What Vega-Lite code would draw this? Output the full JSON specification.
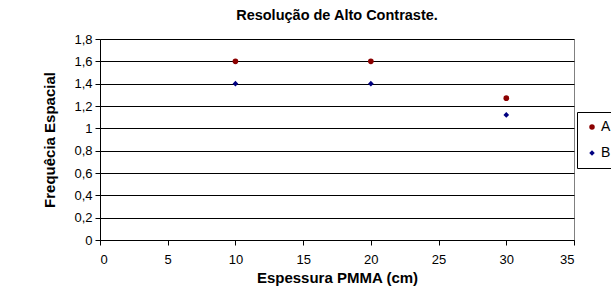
{
  "$schema": "https://vega.github.io/schema/vega-lite/v6.json",
  "autosize": "none",
  "width": 474,
  "height": 201,
  "padding": {"left": 100, "top": 39, "right": 37, "bottom": 51},
  "background": "white",
  "title": {
    "text": "Resolução de Alto Contraste.",
    "font": "Liberation Sans",
    "fontSize": 14.5,
    "fontWeight": "bold",
    "color": "black",
    "anchor": "middle",
    "offset": 10
  },
  "data": {
    "values": [
      {"espessura": 10, "freq": 1.6, "serie": "A"},
      {"espessura": 20, "freq": 1.6, "serie": "A"},
      {"espessura": 30, "freq": 1.27, "serie": "A"},
      {"espessura": 10, "freq": 1.4, "serie": "B"},
      {"espessura": 20, "freq": 1.4, "serie": "B"},
      {"espessura": 30, "freq": 1.12, "serie": "B"}
    ]
  },
  "mark": {"type": "point", "filled": true, "opacity": 1},
  "encoding": {
    "x": {
      "field": "espessura",
      "type": "quantitative",
      "title": "Espessura PMMA (cm)",
      "scale": {"domain": [0, 35], "nice": false, "zero": true},
      "axis": {
        "values": [0, 5, 10, 15, 20, 25, 30, 35],
        "grid": false,
        "tickSize": 5,
        "labelPadding": 8,
        "titlePadding": 4
      }
    },
    "y": {
      "field": "freq",
      "type": "quantitative",
      "title": "Frequêcia Espacial",
      "scale": {"domain": [0, 1.8], "nice": false},
      "axis": {
        "values": [0, 0.2, 0.4, 0.6, 0.8, 1, 1.2, 1.4, 1.6, 1.8],
        "format": ",.1~f",
        "labelExpr": "replace(datum.label, '.', ',')",
        "grid": true,
        "tickSize": 5,
        "labelPadding": 3,
        "titlePadding": 16
      }
    },
    "color": {
      "field": "serie",
      "type": "nominal",
      "scale": {"domain": ["A", "B"], "range": ["#8B0000", "#000080"]},
      "legend": {"title": null}
    },
    "shape": {
      "field": "serie",
      "type": "nominal",
      "scale": {"domain": ["A", "B"], "range": ["circle", "diamond"]},
      "legend": {"title": null}
    },
    "size": {"value": 32}
  },
  "config": {
    "view": {"stroke": "#808080", "strokeWidth": 1},
    "axis": {
      "labelFont": "Liberation Sans",
      "labelFontSize": 13,
      "labelColor": "black",
      "titleFont": "Liberation Sans",
      "titleFontSize": 15,
      "titleFontWeight": "bold",
      "titleColor": "black",
      "domainColor": "black",
      "tickColor": "black",
      "gridColor": "black",
      "gridOpacity": 1,
      "gridWidth": 1
    },
    "legend": {
      "orient": "none",
      "legendX": 477,
      "legendY": 73,
      "strokeColor": "black",
      "fillColor": "white",
      "padding": 8,
      "labelFont": "Liberation Sans",
      "labelFontSize": 14,
      "labelColor": "black",
      "symbolSize": 30,
      "rowPadding": 12,
      "labelOffset": 2
    }
  }
}
